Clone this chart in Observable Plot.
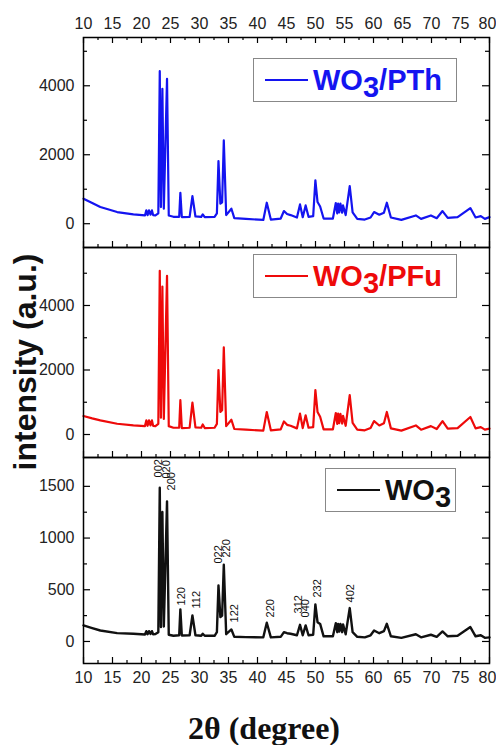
<!DOCTYPE html>
<html><head><meta charset="utf-8">
<script src="https://cdn.jsdelivr.net/npm/d3@7"></script>
<script src="https://cdn.jsdelivr.net/npm/@observablehq/plot@0.6"></script>
<style>
body{margin:0;background:#fff;}
#wrap{position:relative;width:496px;height:745px;font-family:"Liberation Sans",Arial,sans-serif;overflow:hidden;}
#wrap svg{display:block;overflow:visible;}
.legend{position:absolute;border:1px solid #888;background:#fff;box-sizing:border-box;display:flex;align-items:center;font-weight:bold;font-size:29px;line-height:1;white-space:nowrap;}
.legend .ln{display:inline-block;width:43px;height:2px;margin:0 5px 0 11px;}
.legend sub{font-size:29px;vertical-align:-0.25em;line-height:0;}
#ytitle{position:absolute;left:-125px;top:346px;width:300px;height:32px;line-height:32px;text-align:center;font-weight:bold;font-size:32px;transform:rotate(-90deg);transform-origin:50% 50%;color:#111;white-space:nowrap;}
#xtitle{position:absolute;left:114px;top:712px;width:300px;text-align:center;font-family:"Liberation Serif","Times New Roman",serif;font-weight:bold;font-size:32px;line-height:32px;color:#111;white-space:nowrap;}
</style>
</head><body>
<div id="wrap"></div>
<script>
// ---- data ----
const twoTheta = [10.0,11.5,12.9,15.8,18.6,20.6,20.83,21.05,21.29,21.55,21.8,22.0,22.4,22.9,23.15,23.35,23.6,23.85,24.4,24.7,25.5,26.5,26.7,26.95,28.3,28.78,29.3,30.3,30.56,30.9,32.6,33.0,33.27,33.6,33.9,34.19,34.6,35.5,36.0,38.0,41.0,41.6,42.3,44.0,44.56,45.1,45.7,46.8,47.33,47.8,48.3,48.8,49.6,49.98,50.35,50.8,51.4,53.0,53.5,53.75,53.9,54.1,54.3,54.6,54.75,55.2,55.9,56.4,57.2,58.5,59.5,60.1,61.0,61.8,62.3,63.0,64.8,67.3,68.2,69.9,70.9,71.9,72.8,74.5,76.7,77.6,78.5,79.2,80.0];

const pthIntensity = [725,600,483,338,270,240,386,250,386,260,386,250,240,300,4424,483,3912,435,4202,240,200,200,898,193,200,802,210,200,270,190,200,300,1816,580,620,2415,250,435,160,140,110,609,120,150,367,280,250,180,560,190,531,200,220,1256,628,500,150,150,599,300,580,330,580,320,530,250,1092,330,140,120,180,338,260,320,609,180,110,240,140,240,160,367,170,190,454,180,220,140,190];

const pfuIntensity = [573,500,438,333,281,260,438,270,438,280,438,270,260,330,5075,520,4585,480,4918,260,210,210,1063,200,210,990,220,210,313,200,210,330,2000,700,750,2699,260,458,170,150,120,698,130,160,406,300,270,190,646,200,594,210,230,1375,698,550,160,160,667,330,650,350,640,340,580,270,1219,360,150,130,200,417,280,350,698,190,120,281,150,260,170,417,180,200,542,190,230,150,180];

const wo3Intensity = [155,130,106,81,74,68,100,70,100,72,100,70,72,90,1487,139,1252,145,1355,65,55,60,310,58,60,252,60,55,75,55,55,90,542,235,250,742,70,116,45,42,40,181,40,45,90,80,75,60,161,60,155,60,65,358,187,170,50,50,177,90,170,95,170,90,165,70,323,90,45,40,60,106,80,100,171,50,35,70,40,65,45,97,50,55,139,50,60,35,40];

const seriesNames = ["WO3/PTh","WO3/PFu","WO3"];
const seriesColors = ["#1414f0","#ee0a0a","#111111"];

const hklText  = ["002","020","200","120","112","022","220","122","220","312","040","232","402"];
const hklTheta = [22.9,24.3,25.1,26.9,29.4,33.3,34.7,36.1,42.2,47.1,48.2,50.4,56.1];
const hklBase  = [1586,1576,1460,348,319,754,812,184,232,271,232,425,377];

const xMajor = [10,15,20,25,30,35,40,45,50,55,60,65,70,75,80];
const xMinor = [12.5,17.5,22.5,27.5,32.5,37.5,42.5,47.5,52.5,57.5,62.5,67.5,72.5,77.5];
const yMajorBig = [0,2000,4000];
const yMinorBig = [1000,3000,5000];
const yMajorSmall = [0,500,1000,1500];
const yMinorSmall = [250,750,1250];

// ---- build ----
const W = 496, ML = 83, MR = 7;
const innerW = W - ML - MR;
const font = '"Liberation Sans", Arial, sans-serif';
const xInner = xMajor.slice(0, -1);
const xLast = xMajor.slice(-1);

function xLabels(anchor, pad) {
  return [
    Plot.axisX(xInner, {anchor, tickSize: 0, tickPadding: pad, label: null, tickFormat: d => String(d), fontSize: 16}),
    Plot.axisX(xLast, {anchor, tickSize: 0, tickPadding: pad, label: null, tickFormat: d => String(d), fontSize: 16, dx: -2})
  ];
}

function panel({values, color, sw, yDomain, yMaj, yMin, top, bottom, height, innerH, extra = []}) {
  const rows = twoTheta.map((t, i) => ({t, v: values[i]}));
  const marks = [
    Plot.line(rows, {x: "t", y: "v", stroke: color, strokeWidth: sw, strokeLinejoin: "round"}),
    Plot.axisY(yMaj, {anchor: "left", tickSize: 0, tickPadding: 9, label: null, tickFormat: d => String(d), fontSize: 16}),
    Plot.ruleY(yMaj, {insetRight: innerW - 7, stroke: "black", strokeWidth: 1.2}),
    Plot.ruleY(yMin, {insetRight: innerW - 4, stroke: "black", strokeWidth: 1.2}),
    Plot.ruleY(yMaj, {insetLeft: innerW - 7, stroke: "black", strokeWidth: 1.2}),
    Plot.ruleY(yMin, {insetLeft: innerW - 4, stroke: "black", strokeWidth: 1.2}),
    Plot.ruleX(xMajor, {insetTop: innerH - 6, stroke: "black", strokeWidth: 1.2}),
    Plot.ruleX(xMinor, {insetTop: innerH - 3, stroke: "black", strokeWidth: 1.2}),
    ...extra,
    Plot.frame({stroke: "black", strokeWidth: 1.5})
  ];
  if (top) {
    marks.push(
      Plot.ruleX(xMajor, {insetBottom: innerH - 6, stroke: "black", strokeWidth: 1.2}),
      Plot.ruleX(xMinor, {insetBottom: innerH - 3, stroke: "black", strokeWidth: 1.2}),
      ...xLabels("top", 9)
    );
  }
  if (bottom) marks.push(...xLabels("bottom", 8));
  return Plot.plot({
    width: W, height,
    marginLeft: ML, marginRight: MR,
    marginTop: top ? 37 : 0,
    marginBottom: bottom ? 30 : 0,
    style: {fontFamily: font, fontSize: "16px", color: "#222", background: "transparent", overflow: "visible"},
    x: {domain: [10, 80], label: null, axis: null},
    y: {domain: yDomain, label: null, axis: null},
    marks
  });
}

const wrap = document.getElementById("wrap");

wrap.appendChild(panel({values: pthIntensity, color: seriesColors[0], sw: 2.2, yDomain: [-690, 5400], yMaj: yMajorBig, yMin: yMinorBig, top: true, bottom: false, height: 247, innerH: 210}));
wrap.appendChild(panel({values: pfuIntensity, color: seriesColors[1], sw: 2.2, yDomain: [-713, 5798], yMaj: yMajorBig, yMin: yMinorBig, top: false, bottom: false, height: 210, innerH: 210}));

const hkl = hklText.map((s, i) => ({s, t: hklTheta[i], v: hklBase[i]}));
wrap.appendChild(panel({values: wo3Intensity, color: seriesColors[2], sw: 2.4, yDomain: [-213, 1779], yMaj: yMajorSmall, yMin: yMinorSmall, top: false, bottom: true, height: 236, innerH: 206,
  extra: [Plot.text(hkl, {x: "t", y: "v", text: "s", rotate: -90, textAnchor: "start", fontSize: 11, fill: "#111", fontFamily: font})]}));

// legends (HTML overlays)
const legendBoxes = [
  {left: 253, top: 58, width: 204},
  {left: 253, top: 254, width: 204},
  {left: 325, top: 468, width: 131}
];
seriesNames.forEach((name, i) => {
  const d = document.createElement("div");
  d.className = "legend";
  const b = legendBoxes[i];
  d.style.left = b.left + "px"; d.style.top = b.top + "px"; d.style.width = b.width + "px"; d.style.height = "44px";
  d.style.color = seriesColors[i];
  const ln = document.createElement("span");
  ln.className = "ln"; ln.style.background = seriesColors[i];
  d.appendChild(ln);
  const txt = document.createElement("span");
  const m = name.match(/^(WO)(3)(.*)$/);
  txt.appendChild(document.createTextNode(m[1]));
  const sub = document.createElement("sub"); sub.textContent = m[2];
  txt.appendChild(sub);
  if (m[3]) txt.appendChild(document.createTextNode(m[3]));
  d.appendChild(txt);
  wrap.appendChild(d);
});

const yt = document.createElement("div");
yt.id = "ytitle"; yt.textContent = "intensity (a.u.)";
wrap.appendChild(yt);
const xt = document.createElement("div");
xt.id = "xtitle"; xt.textContent = "2θ (degree)";
wrap.appendChild(xt);
</script>
</body></html>
